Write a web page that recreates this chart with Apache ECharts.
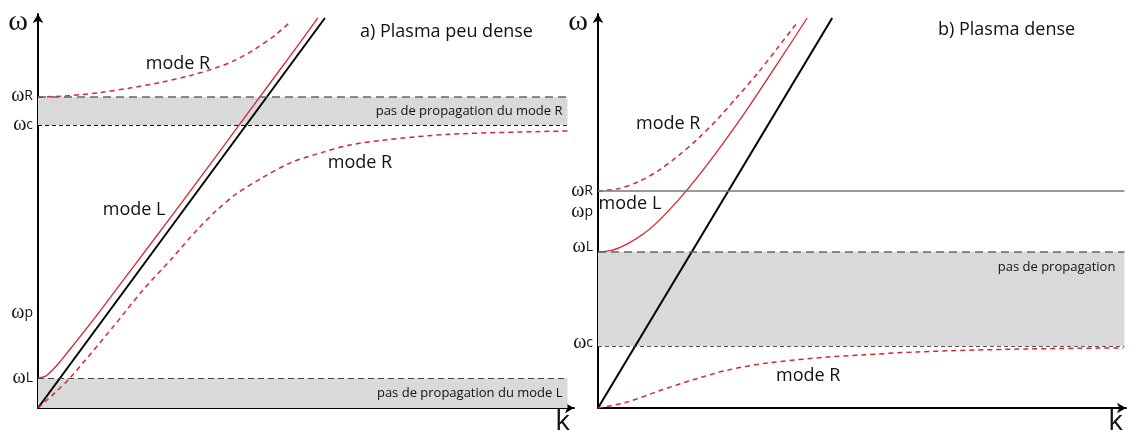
<!DOCTYPE html>
<html>
<head>
<meta charset="utf-8">
<script src="https://cdn.jsdelivr.net/npm/echarts@6/dist/echarts.min.js"></script>
<style>
  html, body { margin: 0; padding: 0; background: #fff; }
  #chart { width: 1132px; height: 439px; }
</style>
</head>
<body>
<div id="chart"></div>
<script>
// ---- panel a) plasma peu dense ----
const levelsA = [7.81, 7.11, 0.75];          // omegaR, omegac, omegaL
const bandEndA = 9.8;
const tickValsA = [7.84, 7.11, 2.39, 0.75];
const tickNamesA = ['R', 'c', 'p', 'L'];
const vacuumA = [[0, 0], [5.31, 9.8]];
const modeLA = [[0, 0.75], [0.14, 0.8], [0.25, 0.93], [0.4, 1.15], [0.56, 1.42], [0.83, 1.88],
  [1.2, 2.53], [1.76, 3.54], [2.51, 4.89], [3.26, 6.26], [4.01, 7.64], [4.76, 9.02], [5.18, 9.8]];
const modeRUpA = [[0, 7.81], [0.59, 7.85], [1.17, 7.93], [1.7, 8.04], [2.26, 8.18], [2.81, 8.35],
  [3.28, 8.54], [3.65, 8.74], [4.02, 9.02], [4.39, 9.37], [4.67, 9.7]];
const modeRLowA = [[0, 0], [0.31, 0.38], [0.59, 0.75], [1.39, 2.04], [1.94, 2.96], [2.5, 3.79],
  [2.94, 4.47], [3.31, 4.97], [3.69, 5.4], [4.17, 5.8], [4.67, 6.16], [5.28, 6.43], [5.78, 6.61],
  [6.39, 6.73], [7.63, 6.88], [9.8, 6.96]];
const textA = [['mode R', 2.59, 8.64], ['mode L', 1.78, 4.97], ['mode R', 5.96, 6.16]];

// ---- panel b) plasma dense ----
const levelsB = [5.45, 3.92, 1.56];          // omegaR, omegaL, omegac
const bandEndB = 9.89;
const tickValsB = [5.45, 4.92, 4.05, 1.63];
const tickNamesB = ['R', 'p', 'L', 'c'];
const vacuumB = [[0, 0], [4.4, 9.8]];
const modeLB = [[0, 3.92], [0.28, 3.97], [0.56, 4.13], [0.85, 4.37], [1.13, 4.69], [1.5, 5.21],
  [1.88, 5.82], [2.35, 6.65], [2.82, 7.54], [3.38, 8.67], [3.93, 9.8]];
const modeRUpB = [[0, 5.45], [0.38, 5.51], [0.75, 5.68], [1.13, 5.96], [1.5, 6.33], [1.88, 6.77],
  [2.26, 7.28], [2.63, 7.84], [3.01, 8.43], [3.38, 9.06], [3.74, 9.68]];
const modeRLowB = [[0, 0], [0.55, 0.15], [1.17, 0.44], [1.79, 0.71], [2.43, 0.95], [3.18, 1.13],
  [4.31, 1.28], [4.93, 1.33], [6.0, 1.41], [7.88, 1.48], [9.87, 1.51]];
const textB = [['mode R', 1.32, 7.14], ['mode L', 0.6, 5.13], ['mode R', 3.95, 0.8]];

const RED = '#d7262d';
const SANS = 'Open Sans';
const SERIF = 'Liberation Serif';

function xAxisOf(idx, gap) {
  return {
    gridIndex: idx, type: 'value', min: 0, max: 9.92,
    axisLine: { onZero: false, symbol: ['none', 'arrow'], symbolSize: [8, 9], lineStyle: { color: '#000', width: 2 } },
    axisTick: { show: false }, axisLabel: { show: false }, splitLine: { show: false },
    name: 'k', nameLocation: 'end', nameGap: gap,
    nameTextStyle: { fontFamily: SANS, fontSize: 28, color: '#111', align: 'right', verticalAlign: 'top', padding: [0, 0, 0, 0] }
  };
}

function yAxisOf(idx, vals, names) {
  return {
    gridIndex: idx, type: 'value', min: 0, max: 9.9,
    axisLine: { onZero: false, symbol: ['none', 'arrow'], symbolSize: [8, 9], lineStyle: { color: '#000', width: 2 } },
    axisTick: { show: false }, splitLine: { show: false },
    axisLabel: {
      customValues: vals, margin: 5,
      formatter: v => '{w|ω}{s|' + names[vals.indexOf(v)] + '}',
      rich: {
        w: { fontFamily: SERIF, fontSize: 20, color: '#111' },
        s: { fontFamily: SANS, fontSize: 14, color: '#111' }
      }
    },
    name: 'ω', nameLocation: 'end', nameGap: -8,
    nameTextStyle: { fontFamily: SERIF, fontSize: 30, color: '#111', align: 'right', verticalAlign: 'middle', padding: [0, 10, 0, 0] }
  };
}

function curve(idx, data, dashed, color, width) {
  return {
    type: 'line', xAxisIndex: idx, yAxisIndex: idx, data: data, smooth: 0.3,
    showSymbol: false, silent: true, z: 3,
    lineStyle: { color: color, width: width, type: dashed ? [5, 4] : 'solid' }
  };
}

function texts(idx, list) {
  return {
    type: 'scatter', xAxisIndex: idx, yAxisIndex: idx, symbolSize: 0, silent: true, z: 4,
    itemStyle: { opacity: 1 },
    data: list.map(t => ({ name: t[0], value: [t[1], t[2]] })),
    label: { show: true, position: 'inside', formatter: p => p.name, fontFamily: SANS, fontSize: 18,
      color: '#111', opacity: 1, textBorderWidth: 0 }
  };
}

function hline(y, end, style) {
  return [{ coord: [0, y], lineStyle: style }, { coord: [end, y] }];
}

const bandLabel = { show: true, fontFamily: SANS, fontSize: 13, color: '#111', opacity: 1, textBorderWidth: 0 };

const chart = echarts.init(document.getElementById('chart'));
chart.setOption({
  animation: false,
  title: [
    { text: 'a) Plasma peu dense', left: 360, top: 23, padding: 0,
      textStyle: { fontFamily: SANS, fontSize: 18, fontWeight: 'normal', color: '#111' } },
    { text: 'b) Plasma dense', left: 938, top: 21, padding: 0,
      textStyle: { fontFamily: SANS, fontSize: 18, fontWeight: 'normal', color: '#111' } }
  ],
  grid: [
    { left: 38, top: 14, width: 536, bottom: 31 },
    { left: 598, top: 14, width: 528, bottom: 31 }
  ],
  xAxis: [xAxisOf(0, -4), xAxisOf(1, -3)],
  yAxis: [yAxisOf(0, tickValsA, tickNamesA), yAxisOf(1, tickValsB, tickNamesB)],
  series: [
    {
      type: 'line', xAxisIndex: 0, yAxisIndex: 0, data: vacuumA, showSymbol: false, silent: true, z: 3,
      lineStyle: { color: '#000', width: 2 },
      markArea: {
        silent: true, itemStyle: { color: '#d9d9d9', opacity: 1 },
        data: [
          [{ coord: [0, levelsA[1]], label: Object.assign({ position: 'insideRight', distance: 5 }, bandLabel), name: 'pas de propagation du mode R' },
           { coord: [bandEndA, levelsA[0]] }],
          [{ coord: [0, 0], label: Object.assign({ position: 'insideRight', distance: 5 }, bandLabel), name: 'pas de propagation du mode L' },
           { coord: [bandEndA, levelsA[2]] }]
        ]
      },
      markLine: {
        silent: true, symbol: 'none', label: { show: false },
        data: [
          hline(levelsA[0], bandEndA, { color: '#666', width: 1.5, type: [8, 5] }),
          hline(levelsA[1], bandEndA, { color: '#111', width: 1, type: [4, 3] }),
          hline(levelsA[2], bandEndA, { color: '#444', width: 1, type: [6, 4] })
        ]
      }
    },
    curve(0, modeLA, false, RED, 1.3),
    curve(0, modeRUpA, true, RED, 1.5),
    curve(0, modeRLowA, true, RED, 1.5),
    texts(0, textA),
    {
      type: 'line', xAxisIndex: 1, yAxisIndex: 1, data: vacuumB, showSymbol: false, silent: true, z: 3,
      lineStyle: { color: '#000', width: 2 },
      markArea: {
        silent: true, itemStyle: { color: '#d9d9d9', opacity: 1 },
        data: [
          [{ coord: [0, levelsB[2]], label: Object.assign({ position: 'insideTopRight', distance: 9 }, bandLabel), name: 'pas de propagation' },
           { coord: [bandEndB, levelsB[1]] }]
        ]
      },
      markLine: {
        silent: true, symbol: 'none', label: { show: false },
        data: [
          hline(levelsB[0], bandEndB, { color: '#777', width: 1.5, type: 'solid' }),
          hline(levelsB[1], bandEndB, { color: '#666', width: 1.5, type: [8, 5] }),
          hline(levelsB[2], bandEndB, { color: '#555', width: 1, type: [4, 3] })
        ]
      }
    },
    curve(1, modeLB, false, RED, 1.3),
    curve(1, modeRUpB, true, RED, 1.5),
    curve(1, modeRLowB, true, RED, 1.5),
    texts(1, textB)
  ]
});
</script>
</body>
</html>
